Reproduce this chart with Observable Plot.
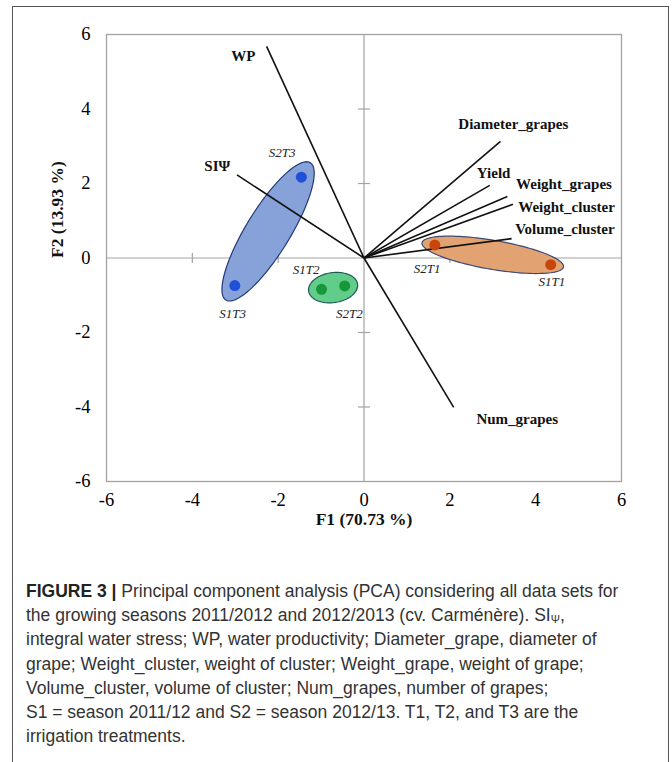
<!DOCTYPE html>
<html>
<head>
<meta charset="utf-8">
<script src="https://cdn.jsdelivr.net/npm/d3@7"></script>
<script src="https://cdn.jsdelivr.net/npm/@observablehq/plot@0.6"></script>
<style>
  html, body { margin: 0; padding: 0; background: #fff; }
  #border { position: absolute; left: 12px; top: 6px; width: 657px; height: 820px; border: 1.5px solid #555; box-sizing: border-box; }
  #chart { position: absolute; left: 0; top: 0; }
  #caption { position: absolute; left: 26px; top: 579px; font-family: "Liberation Sans", Arial, sans-serif; font-size: 17.5px; line-height: 24.2px; color: #333; white-space: nowrap; }
  #caption b { color: #222; }
  #caption sub { font-size: 11px; line-height: 0; vertical-align: baseline; position: relative; top: 2px; }
</style>
</head>
<body>
<div id="border"></div>
<div id="chart"></div>
<div id="caption">
<b>FIGURE 3 |</b> Principal component analysis (PCA) considering all data sets for<br>
the growing seasons 2011/2012 and 2012/2013 (cv. Carménère). SI<sub>Ψ</sub>,<br>
integral water stress; WP, water productivity; Diameter_grape, diameter of<br>
grape; Weight_cluster, weight of cluster; Weight_grape, weight of grape;<br>
Volume_cluster, volume of cluster; Num_grapes, number of grapes;<br>
S1 = season 2011/12 and S2 = season 2012/13. T1, T2, and T3 are the<br>
irrigation treatments.
</div>
<script>
// ---- Data ----
const variables = ["WP", "SIΨ", "Diameter_grapes", "Yield", "Weight_grapes", "Weight_cluster", "Volume_cluster", "Num_grapes"];
const varF1 = [-2.27, -2.96, 3.18, 2.93, 3.34, 3.47, 3.44, 2.09];
const varF2 = [5.68, 2.23, 3.13, 1.95, 1.65, 1.44, 0.52, -4.01];
const varLabelF1 = [-2.81, -3.42, 3.48, 3.02, 4.66, 4.72, 4.68, 3.57];
const varLabelF2 = [5.41, 2.46, 3.58, 2.29, 1.99, 1.36, 0.77, -4.32];

const obs = ["S1T1", "S2T1", "S1T2", "S2T2", "S1T3", "S2T3"];
const obsGroup = ["T1", "T1", "T2", "T2", "T3", "T3"];
const obsF1 = [4.35, 1.65, -0.99, -0.45, -3.01, -1.46];
const obsF2 = [-0.18, 0.35, -0.84, -0.75, -0.74, 2.17];
const obsLabelF1 = [4.38, 1.47, -1.35, -0.34, -3.06, -1.91];
const obsLabelF2 = [-0.65, -0.29, -0.32, -1.49, -1.49, 2.82];

const groups = ["T1", "T2", "T3"];
const tickValues = [-6, -4, -2, 0, 2, 4, 6];
const axisCrossTicks = [-4, -2, 2, 4];
const xTitle = "F1 (70.73 %)";
const yTitle = "F2 (13.93 %)";

// ---- Styles ----
const groupStyle = {
  T1: {fill: "#e2a272", stroke: "#3c4a78", dot: "#c8460e", pad: 13, minor: 14.5},
  T2: {fill: "#62cc8a", stroke: "#1d5a55", dot: "#16973a", pad: 13, minor: 15},
  T3: {fill: "#86a2d9", stroke: "#23387a", dot: "#2150d8", pad: 17, minor: 22}
};

const W = 672, H = 545, ML = 106, MR = 51, MT = 34, MB = 64;
const kx = (W - ML - MR) / 12, ky = (H - MT - MB) / 12;

const vars = variables.map((v, i) => ({name: v, x: varF1[i], y: varF2[i], lx: varLabelF1[i], ly: varLabelF2[i]}));
const pts = obs.map((o, i) => ({name: o, g: obsGroup[i], x: obsF1[i], y: obsF2[i], lx: obsLabelF1[i], ly: obsLabelF2[i]}));

// ellipse outlines around each group's points (computed in screen-proportional space)
const ellipses = [];
for (const g of groups) {
  const gp = pts.filter(p => p.g === g);
  const a1 = [gp[0].x * kx, -gp[0].y * ky], a2 = [gp[1].x * kx, -gp[1].y * ky];
  const cx = (a1[0] + a2[0]) / 2, cy = (a1[1] + a2[1]) / 2;
  const dx = a2[0] - a1[0], dy = a2[1] - a1[1];
  const len = Math.hypot(dx, dy);
  const ux = dx / len, uy = dy / len, vx = -uy, vy = ux;
  const A = len / 2 + groupStyle[g].pad, B = groupStyle[g].minor;
  const N = 120;
  for (let k = 0; k <= N; k++) {
    const t = 2 * Math.PI * k / N;
    const px = cx + A * Math.cos(t) * ux + B * Math.sin(t) * vx;
    const py = cy + A * Math.cos(t) * uy + B * Math.sin(t) * vy;
    ellipses.push({g, x: px / kx, y: -py / ky});
  }
}

const vtick = {draw(ctx, size) { const r = Math.sqrt(size / Math.PI); ctx.moveTo(0, -r); ctx.lineTo(0, r); }};
const htick = {draw(ctx, size) { const r = Math.sqrt(size / Math.PI); ctx.moveTo(-r, 0); ctx.lineTo(r, 0); }};

const serif = "Liberation Serif, Times New Roman, serif";

const plot = Plot.plot({
  width: W, height: H,
  marginLeft: ML, marginRight: MR, marginTop: MT, marginBottom: MB,
  style: {fontFamily: serif, background: "transparent", overflow: "visible"},
  x: {domain: [-6, 6]},
  y: {domain: [-6, 6]},
  marks: [
    Plot.frame({stroke: "#a3a3a3", strokeWidth: 1.3}),
    Plot.ruleX([0], {stroke: "#a3a3a3", strokeWidth: 1.2}),
    Plot.ruleY([0], {stroke: "#a3a3a3", strokeWidth: 1.2}),
    Plot.dot(axisCrossTicks, {x: d => d, y: 0, symbol: vtick, r: 5, stroke: "#a3a3a3", strokeWidth: 1.2, fill: "none"}),
    Plot.dot(axisCrossTicks, {x: 0, y: d => d, symbol: htick, r: 6, stroke: "#a3a3a3", strokeWidth: 1.2, fill: "none"}),
    Plot.axisX(tickValues, {tickSize: 0, tickPadding: 11, fontSize: 18.5, label: null, tickFormat: d => String(d).replace("−", "-")}),
    Plot.axisY(tickValues, {tickSize: 0, tickPadding: 16, fontSize: 18.5, label: null, tickFormat: d => String(d).replace("−", "-")}),
    ...groups.map(g => Plot.line(ellipses.filter(e => e.g === g), {x: "x", y: "y", fill: groupStyle[g].fill, stroke: groupStyle[g].stroke, strokeWidth: 1.2, curve: "linear"})),
    Plot.link(vars, {x1: 0, y1: 0, x2: "x", y2: "y", stroke: "#111", strokeWidth: 1.6}),
    Plot.dot(pts, {x: "x", y: "y", r: 5.5, fill: d => groupStyle[d.g].dot, stroke: "none"}),
    Plot.text(vars, {x: "lx", y: "ly", text: "name", fontWeight: "bold", fontSize: 15, fill: "#111"}),
    Plot.text(pts, {x: "lx", y: "ly", text: "name", fontStyle: "italic", fontSize: 13, fill: "#222"}),
    Plot.text([xTitle], {frameAnchor: "bottom", dy: 43, text: d => d, fontWeight: "bold", fontSize: 17.5, fill: "#111"}),
    Plot.text([yTitle], {frameAnchor: "left", dx: -49, rotate: -90, text: d => d, fontWeight: "bold", fontSize: 17.5, fill: "#111"})
  ]
});
document.getElementById("chart").appendChild(plot);
</script>
</body>
</html>
